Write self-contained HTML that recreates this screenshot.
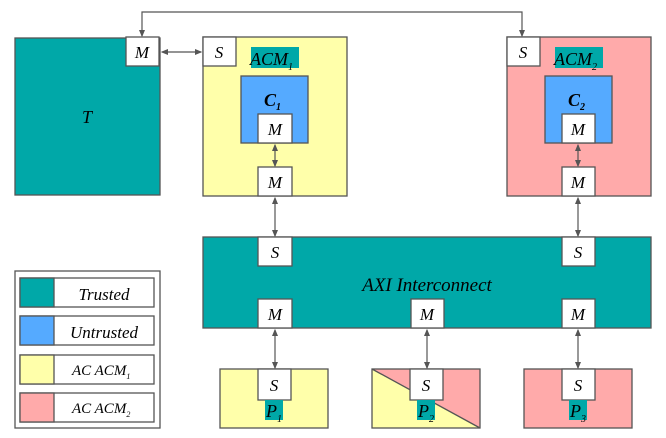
<!DOCTYPE html>
<html><head><style>body{margin:0;background:#fff}svg{display:block}text{font-family:"Liberation Serif",serif;font-style:italic;fill:#000}</style></head><body>
<svg width="666" height="438" viewBox="0 0 666 438" xmlns="http://www.w3.org/2000/svg">
<defs><marker id="a" markerWidth="6" markerHeight="6" refX="5" refY="3" orient="auto-start-reverse"><path d="M0,0.5 L6,3 L0,5.5z" fill="#555"/></marker></defs>
<g stroke="#555" stroke-width="1.3">
<rect x="15" y="38" width="145" height="157" fill="#00A8A8"/>
<rect x="203" y="37" width="144" height="159" fill="#FFFFAA"/>
<rect x="507" y="37" width="144" height="159" fill="#FFAAAA"/>
<rect x="241" y="76" width="67" height="67" fill="#55AAFF"/>
<rect x="545" y="76" width="67" height="67" fill="#55AAFF"/>
<rect x="203" y="237" width="448" height="91" fill="#00A8A8"/>
<rect x="220" y="369" width="108" height="59" fill="#FFFFAA"/>
<rect x="524" y="369" width="108" height="59" fill="#FFAAAA"/>
<rect x="15" y="271" width="145" height="157" fill="#fff"/>
</g>
<polygon points="372,369 480,369 480,428" fill="#FFAAAA"/>
<polygon points="372,369 480,428 372,428" fill="#FFFFAA"/>
<g stroke="#555" stroke-width="1.3" fill="none"><line x1="372" y1="369" x2="480" y2="428"/><rect x="372" y="369" width="108" height="59"/></g>
<g stroke="#555" stroke-width="1.3" fill="#fff">
<rect x="126" y="37" width="33" height="29"/>
<rect x="203" y="37" width="33" height="29"/>
<rect x="507" y="37" width="33" height="29"/>
<rect x="258" y="114" width="34" height="29"/><rect x="258" y="167" width="34" height="29"/>
<rect x="562" y="114" width="33" height="29"/><rect x="562" y="167" width="33" height="29"/>
<rect x="258" y="237" width="34" height="29"/><rect x="562" y="237" width="33" height="29"/>
<rect x="258" y="299" width="34" height="29"/><rect x="411" y="299" width="33" height="29"/><rect x="562" y="299" width="33" height="29"/>
<rect x="258" y="369" width="33" height="31"/><rect x="410" y="369" width="33" height="31"/><rect x="562" y="369" width="33" height="31"/>
<rect x="20" y="278" width="134" height="29"/><rect x="20" y="316" width="134" height="29"/><rect x="20" y="355" width="134" height="29"/><rect x="20" y="393" width="134" height="29"/>
</g>
<g stroke="#555" stroke-width="1.3">
<rect x="20" y="278" width="34" height="29" fill="#00A8A8"/><rect x="20" y="316" width="34" height="29" fill="#55AAFF"/><rect x="20" y="355" width="34" height="29" fill="#FFFFAA"/><rect x="20" y="393" width="34" height="29" fill="#FFAAAA"/>
</g>
<g fill="#00A8A8"><rect x="251" y="47" width="48" height="21"/><rect x="555" y="47" width="48" height="21"/><rect x="265" y="400" width="18" height="20"/><rect x="417" y="400" width="18" height="20"/><rect x="569" y="400" width="18" height="20"/></g>
<g stroke="#555" stroke-width="1.2" fill="none">
<polyline points="142,36 142,12 522,12 522,36" marker-start="url(#a)" marker-end="url(#a)"/>
<line x1="162" y1="52" x2="201" y2="52" marker-start="url(#a)" marker-end="url(#a)"/>
<line x1="275" y1="145" x2="275" y2="166" marker-start="url(#a)" marker-end="url(#a)"/>
<line x1="578" y1="145" x2="578" y2="166" marker-start="url(#a)" marker-end="url(#a)"/>
<line x1="275" y1="198" x2="275" y2="236" marker-start="url(#a)" marker-end="url(#a)"/>
<line x1="578" y1="198" x2="578" y2="236" marker-start="url(#a)" marker-end="url(#a)"/>
<line x1="275" y1="330" x2="275" y2="368" marker-start="url(#a)" marker-end="url(#a)"/>
<line x1="427" y1="330" x2="427" y2="368" marker-start="url(#a)" marker-end="url(#a)"/>
<line x1="578" y1="330" x2="578" y2="368" marker-start="url(#a)" marker-end="url(#a)"/>
</g>
<g font-size="17" text-anchor="middle">
<text x="142" y="58">M</text><text x="219" y="58">S</text><text x="523" y="58">S</text>
<text x="87" y="123" font-size="18">T</text>
<text x="275" y="135">M</text><text x="275" y="188">M</text><text x="578" y="135">M</text><text x="578" y="188">M</text>
<text x="275" y="258">S</text><text x="578" y="258">S</text>
<text x="275" y="320">M</text><text x="427" y="320">M</text><text x="578" y="320">M</text>
<text x="274" y="391">S</text><text x="426" y="391">S</text><text x="578" y="391">S</text>
<text x="427" y="291" font-size="19">AXI Interconnect</text>
<text x="104" y="300">Trusted</text><text x="104" y="338">Untrusted</text>
</g>
<g font-size="18">
<text x="250" y="65">ACM<tspan font-size="10" dy="5">1</tspan></text>
<text x="554" y="65">ACM<tspan font-size="10" dy="5">2</tspan></text>
<text x="264" y="106" font-weight="bold" fill="#003">C<tspan font-size="10" dy="4">1</tspan></text>
<text x="568" y="106" font-weight="bold" fill="#003">C<tspan font-size="10" dy="4">2</tspan></text>
<text x="266" y="417">P<tspan font-size="10" dy="5">1</tspan></text>
<text x="418" y="417">P<tspan font-size="10" dy="5">2</tspan></text>
<text x="570" y="417">P<tspan font-size="10" dy="5">3</tspan></text>
</g>
<g font-size="15"><text x="72" y="375">AC ACM<tspan font-size="8" dy="4">1</tspan></text><text x="72" y="413">AC ACM<tspan font-size="8" dy="4">2</tspan></text></g>
</svg>
</body></html>
